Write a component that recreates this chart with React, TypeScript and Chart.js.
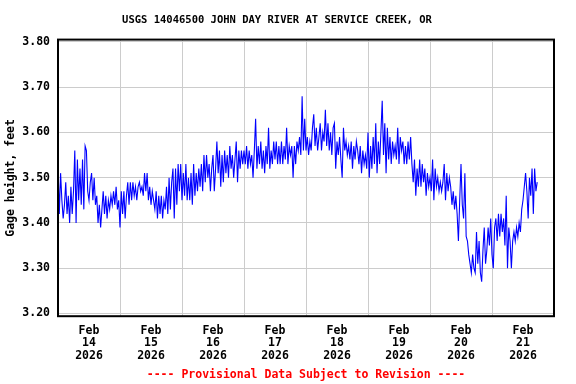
import { useEffect, useRef } from "react";
import { Chart, registerables } from "chart.js";

Chart.register(...registerables);

const TITLE = "USGS 14046500 JOHN DAY RIVER AT SERVICE CREEK, OR";
const Y_TITLE = "Gage height, feet";
const FOOTER = "---- Provisional Data Subject to Revision ----";
const MONTH = "Feb";
const YEAR = "2026";
const DAY_LABELS = ["14", "15", "16", "17", "18", "19", "20", "21"];
const Y_TICKS = [3.2, 3.3, 3.4, 3.5, 3.6, 3.7, 3.8];
const STEP_HOURS = 0.5; // readings every 30 minutes, each day starts at midnight

const feb14 = [3.53,3.42,3.51,3.45,3.41,3.44,3.49,3.42,3.46,3.40,3.48,3.42,3.47,3.56,3.40,3.54,3.45,3.52,3.44,3.54,3.43,3.57,3.56,3.47,3.45,3.49,3.51,3.45,3.50,3.44,3.46,3.40,3.44,3.39,3.43,3.47,3.42,3.46,3.41,3.45,3.43,3.46,3.44,3.47,3.44,3.48,3.43,3.45];
const feb15 = [3.39,3.47,3.42,3.47,3.41,3.46,3.49,3.44,3.49,3.45,3.49,3.46,3.48,3.45,3.48,3.49,3.47,3.48,3.46,3.51,3.47,3.51,3.45,3.48,3.44,3.47,3.45,3.43,3.47,3.41,3.46,3.42,3.46,3.41,3.45,3.43,3.48,3.42,3.50,3.43,3.49,3.52,3.41,3.52,3.44,3.53,3.47,3.53];
const feb16 = [3.45,3.51,3.46,3.53,3.45,3.50,3.45,3.51,3.44,3.53,3.46,3.51,3.47,3.52,3.48,3.53,3.47,3.55,3.49,3.55,3.50,3.53,3.47,3.52,3.55,3.47,3.52,3.58,3.51,3.56,3.48,3.55,3.49,3.56,3.51,3.55,3.50,3.57,3.52,3.55,3.50,3.54,3.58,3.49,3.56,3.52,3.56,3.53];
const feb17 = [3.56,3.53,3.57,3.52,3.56,3.53,3.55,3.50,3.56,3.63,3.52,3.57,3.53,3.58,3.52,3.56,3.51,3.57,3.53,3.61,3.52,3.56,3.53,3.58,3.54,3.58,3.53,3.57,3.53,3.58,3.53,3.57,3.54,3.61,3.53,3.57,3.55,3.57,3.50,3.57,3.53,3.58,3.56,3.59,3.55,3.68,3.56,3.63];
const feb18 = [3.56,3.59,3.55,3.58,3.56,3.61,3.64,3.57,3.61,3.56,3.59,3.62,3.56,3.60,3.58,3.65,3.57,3.62,3.56,3.60,3.55,3.61,3.62,3.52,3.58,3.55,3.59,3.54,3.50,3.61,3.56,3.58,3.55,3.57,3.54,3.58,3.52,3.57,3.54,3.58,3.56,3.53,3.57,3.51,3.56,3.53,3.55,3.52];
const feb19 = [3.60,3.50,3.57,3.52,3.59,3.53,3.62,3.51,3.58,3.53,3.60,3.67,3.55,3.62,3.51,3.61,3.54,3.59,3.53,3.58,3.55,3.57,3.54,3.61,3.53,3.59,3.56,3.58,3.53,3.57,3.53,3.58,3.54,3.59,3.53,3.49,3.54,3.46,3.52,3.48,3.54,3.48,3.53,3.49,3.52,3.46,3.51,3.48];
const feb20 = [3.50,3.47,3.54,3.45,3.52,3.48,3.50,3.47,3.49,3.47,3.49,3.53,3.45,3.51,3.47,3.50,3.48,3.44,3.47,3.43,3.46,3.42,3.36,3.45,3.53,3.44,3.41,3.51,3.37,3.36,3.33,3.31,3.29,3.33,3.30,3.29,3.38,3.31,3.36,3.29,3.27,3.34,3.39,3.31,3.34,3.39,3.35,3.41];
const feb21 = [3.33,3.30,3.39,3.41,3.36,3.42,3.37,3.42,3.38,3.41,3.35,3.46,3.30,3.39,3.36,3.30,3.36,3.38,3.36,3.39,3.37,3.40,3.38,3.43,3.45,3.48,3.51,3.47,3.41,3.50,3.46,3.52,3.42,3.52,3.47,3.49];

const DAYS = [feb14, feb15, feb16, feb17, feb18, feb19, feb20, feb21];

const MONO = "'DejaVu Sans Mono', monospace";

export default function App() {
  const canvasRef = useRef<HTMLCanvasElement | null>(null);

  useEffect(() => {
    const canvas = canvasRef.current;
    if (!canvas) return;

    const points: { x: number; y: number }[] = [];
    DAYS.forEach((vals, d) => {
      vals.forEach((v, k) => points.push({ x: d * 24 + k * STEP_HOURS, y: v }));
    });

    const frame = {
      id: "frame",
      afterDatasetsDraw(chart: any) {
        const { ctx, chartArea } = chart;
        ctx.save();
        ctx.strokeStyle = "#000";
        ctx.lineWidth = 2;
        ctx.strokeRect(chartArea.left, chartArea.top, chartArea.right - chartArea.left, chartArea.bottom - chartArea.top);
        ctx.restore();
      },
    };

    const chart = new Chart(canvas, {
      type: "line",
      data: {
        datasets: [
          {
            data: points,
            borderColor: "#0000ff",
            borderWidth: 1.1,
            pointRadius: 0,
            tension: 0,
            fill: false,
          },
        ],
      },
      options: {
        animation: false,
        responsive: true,
        maintainAspectRatio: false,
        layout: { padding: { left: 0, right: 22, top: 0, bottom: 0 } },
        plugins: {
          legend: { display: false },
          tooltip: { enabled: false },
          title: {
            display: true,
            text: TITLE,
            color: "#000",
            font: { family: MONO, size: 10.5, weight: "bold", lineHeight: 1.2 },
            padding: { top: 14, bottom: 13 },
          },
          subtitle: {
            display: true,
            position: "bottom",
            fullSize: false,
            text: FOOTER,
            color: "#ff0000",
            font: { family: MONO, size: 11.5, weight: "bold", lineHeight: 1.2 },
            padding: { top: 2, bottom: 2 },
          },
        },
        scales: {
          x: {
            type: "linear",
            position: "bottom",
            min: 0,
            max: DAY_LABELS.length * 24,
            afterBuildTicks: (scale: any) => {
              const t = [];
              for (let h = 0; h <= DAY_LABELS.length * 24; h += 12) t.push({ value: h });
              scale.ticks = t;
            },
            afterFit: (scale: any) => {
              scale.height = 50;
            },
            border: { display: false },
            grid: {
              drawTicks: false,
              color: (ctx: any) =>
                ctx.tick && ctx.tick.value % 24 === 0 ? "#cccccc" : "rgba(0,0,0,0)",
              lineWidth: 1,
            },
            ticks: {
              autoSkip: false,
              maxRotation: 0,
              minRotation: 0,
              padding: 8,
              color: "#000",
              font: { family: MONO, size: 11.5, weight: "bold", lineHeight: 1.1 },
              callback: (value: any) => {
                const v = Number(value);
                if (v % 24 === 12) {
                  return [MONTH, DAY_LABELS[(v - 12) / 24], YEAR];
                }
                return "";
              },
            },
          },
          y: {
            position: "left",
            min: 3.194,
            max: 3.805,
            afterBuildTicks: (scale: any) => {
              scale.ticks = Y_TICKS.map((v) => ({ value: v }));
            },
            afterFit: (scale: any) => {
              scale.width = 58;
            },
            border: { display: false },
            grid: { drawTicks: false, color: "#cccccc", lineWidth: 1 },
            ticks: {
              padding: 8,
              color: "#000",
              font: { family: MONO, size: 11.5, weight: "bold" },
              callback: (value: any) => Number(value).toFixed(2),
            },
            title: {
              display: true,
              text: Y_TITLE,
              color: "#000",
              font: { family: MONO, size: 11.5, weight: "bold", lineHeight: 1.2 },
              padding: { top: 4, bottom: 0 },
            },
          },
        },
      },
      plugins: [frame],
    } as any);

    return () => chart.destroy();
  }, []);

  return (
    <div style={{ position: "fixed", left: 0, top: 0, width: 576, height: 384, background: "#fff" }}>
      <canvas ref={canvasRef} />
    </div>
  );
}
